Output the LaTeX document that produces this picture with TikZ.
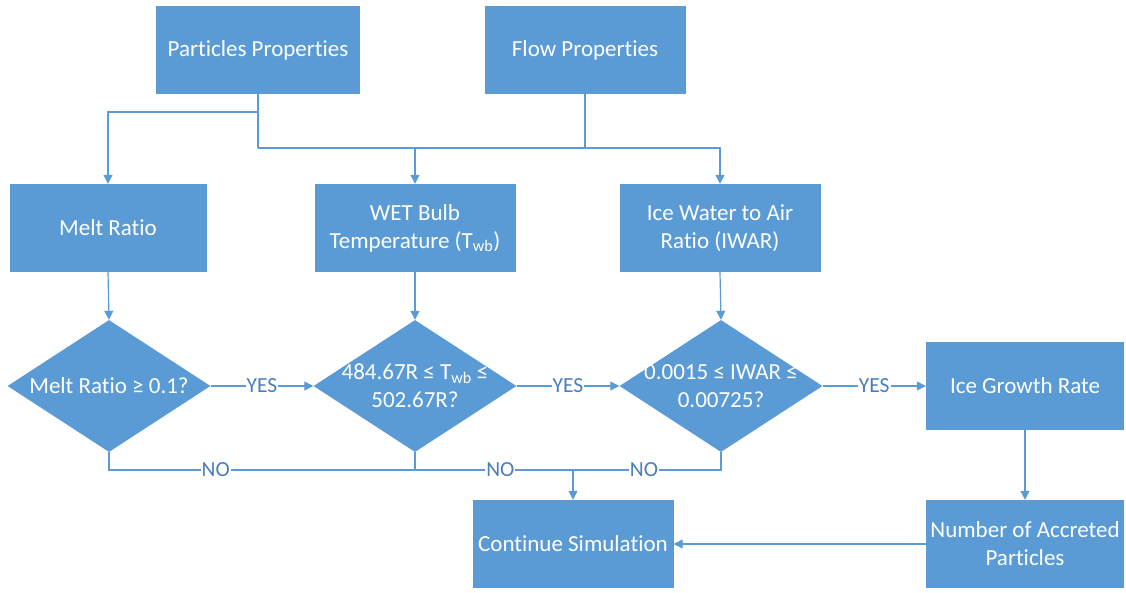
\documentclass[tikz,border=0pt]{standalone}
\usepackage{fontspec}
\setmainfont{Carlito}[Ligatures=NoCommon]
\usetikzlibrary{shapes.geometric,arrows.meta}
\definecolor{officeblue}{HTML}{5B9BD5}
\definecolor{labelblue}{HTML}{4A7EBB}
\begin{document}
\begin{tikzpicture}[x=1pt,y=-1pt,
  box/.style={fill=officeblue, text=white, minimum width=201pt, minimum height=88pt,
    inner sep=2pt, align=center, font=\fontsize{23}{28}\selectfont},
  decision/.style={diamond, fill=officeblue, minimum width=203pt, minimum height=132pt,
    inner sep=0pt},
  dtext/.style={text=white, align=center, font=\fontsize{23}{28}\selectfont},
  link/.style={draw=officeblue, line width=1.2pt},
  arrow/.style={link, -{Triangle[length=9pt,width=9pt]}},
  tag/.style={fill=white, text=labelblue, inner sep=1pt, font=\fontsize{21.5}{24}\selectfont}]
\useasboundingbox (0,0) rectangle (1126,592);

% inputs
\node[box, minimum width=204pt] (pp) at (258,50) {Particles Properties};
\node[box] (fp) at (585,50) {Flow Properties};

% derived quantities
\node[box, minimum width=197pt] (melt) at (108,228) {Melt Ratio};
\node[box] (wet) at (415,228) {WET Bulb\\Temperature (T\textsubscript{wb})};
\node[box] (iwar) at (720,228) {Ice Water to Air\\Ratio (IWAR)};

% checks
\node[decision, label={[dtext]center:Melt Ratio ≥ 0.1?}] (d1) at (109,386) {};
\node[decision, label={[dtext]center:484.67R ≤ T\textsubscript{wb} ≤\\502.67R?}] (d2) at (415,386) {};
\node[decision, label={[dtext]center:0.0015 ≤ IWAR ≤\\0.00725?}] (d3) at (721,386) {};

% outcomes
\node[box, minimum width=198pt] (ice) at (1025,386) {Ice Growth Rate};
\node[box, minimum width=198pt] (num) at (1025,544) {Number of Accreted\\Particles};
\node[box] (cont) at (573,544) {Continue Simulation};

% distribution of the inputs
\coordinate (ppk) at (258,112);
\coordinate (bus) at (258,148);
\draw[link] (pp.south) -- (bus);
\draw[arrow] (ppk) -| (melt.north);
\draw[arrow] (bus) -| (wet.north);
\draw[arrow] (bus) -| (iwar.north);
\draw[link] (fp.south) -- (fp.south |- bus);

% into the checks
\draw[arrow] (melt.south) -- (d1.north);
\draw[arrow] (wet.south) -- (d2.north);
\draw[arrow] (iwar.south) -- (d3.north);

% YES branches
\draw[arrow] (d1.east) -- node[tag]{YES} (d2.west);
\draw[arrow] (d2.east) -- node[tag]{YES} (d3.west);
\draw[arrow] (d3.east) -- node[tag]{YES} (ice.west);

% NO branches
\coordinate (nojoin) at (573,470);
\draw[link] (d1.south) |- node[tag, pos=0.615]{NO} (nojoin);
\draw[link] (d2.south) |- node[tag, pos=0.77]{NO} (nojoin);
\draw[link] (d3.south) |- node[tag, pos=0.76]{NO} (nojoin);
\draw[arrow] (nojoin) -- (cont.north);

% growth and accretion
\draw[arrow] (ice.south) -- (num.north);
\draw[arrow] (num.west) -- (cont.east);
\end{tikzpicture}
\end{document}
